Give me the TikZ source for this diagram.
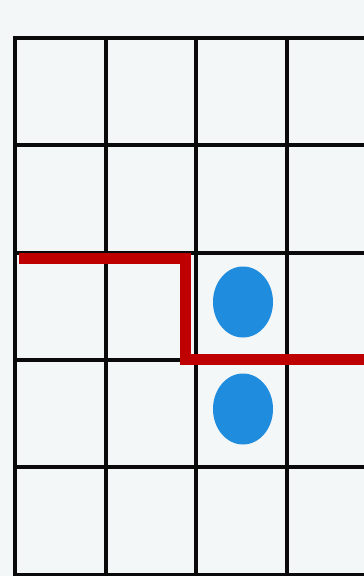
\documentclass[tikz,border=0pt]{standalone}
\definecolor{paper}{RGB}{244,247,247}
\definecolor{gridk}{RGB}{10,10,10}
\definecolor{pathred}{RGB}{190,0,0}
\definecolor{dotblue}{RGB}{32,140,222}
\tikzset{
  gridline/.style={draw=gridk, line width=4.5pt},
  redpath/.style={draw=pathred, line width=11pt, line join=miter},
  bluedot/.style={ellipse, fill=dotblue, minimum width=60pt, minimum height=71pt, inner sep=0pt}
}
\usetikzlibrary{shapes.geometric}
\begin{document}
\begin{tikzpicture}[x=1pt,y=-1pt]
\useasboundingbox (0,0) rectangle (364,576);
\fill[paper] (0,0) rectangle (364,576);
\clip (0,0) rectangle (364,576);
% grid
\foreach \y in {38,145,253,360,467,575}
  \draw[gridline] (13,\y) -- (370,\y);
\foreach \x in {15,106,196,287}
  \draw[gridline] (\x,36) -- (\x,578);
% red path
\coordinate (r1) at (19,258);
\coordinate (r2) at (185,258);
\coordinate (r3) at (185,359);
\coordinate (r4) at (370,359);
\draw[redpath] (r1) -- (r2) -- (r3) -- (r4);
% dots
\node[bluedot] (d1) at (243,302) {};
\node[bluedot] (d2) at (243,409) {};
\end{tikzpicture}
\end{document}
